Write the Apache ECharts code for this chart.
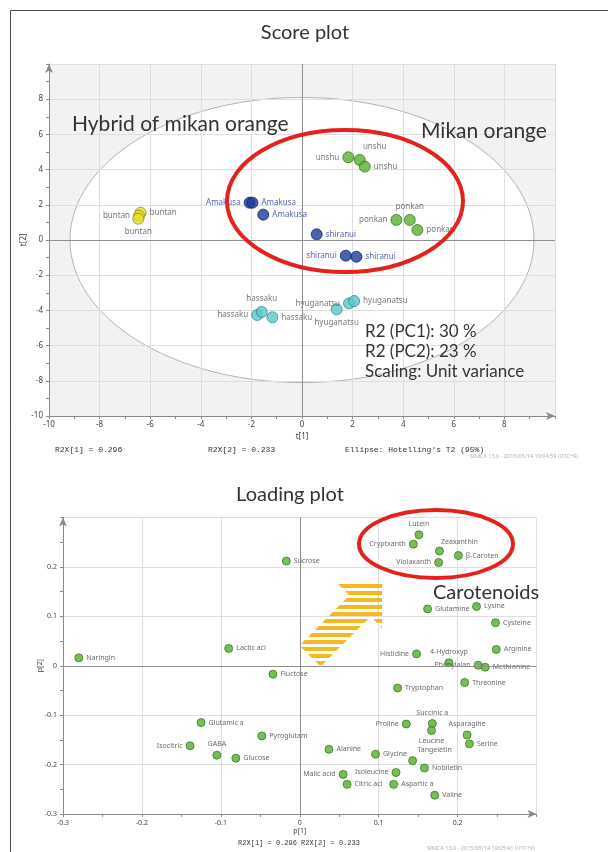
<!DOCTYPE html>
<html>
<head>
<meta charset="utf-8">
<script src="https://cdn.jsdelivr.net/npm/echarts@6/dist/echarts.min.js"></script>
<style>
html,body{margin:0;padding:0;background:#fff;}
#main{width:608px;height:852px;}
</style>
</head>
<body>
<div id="main"></div>
<script>
// score plot: t[1], t[2] for each sample
var scoreNames = ['buntan','buntan','buntan','Amakusa','Amakusa','Amakusa','shiranui','shiranui','shiranui',
  'unshu','unshu','unshu','ponkan','ponkan','ponkan','hassaku','hassaku','hassaku','hyuganatsu','hyuganatsu','hyuganatsu'];
var scoreT1 = [-6.38,-6.44,-6.47,-2.07,-1.96,-1.53,0.58,1.73,2.15,1.83,2.28,2.48,3.73,4.26,4.56,-1.77,-1.59,-1.17,1.37,1.86,2.06];
var scoreT2 = [1.55,1.38,1.21,2.12,2.12,1.44,0.32,-0.89,-0.95,4.70,4.55,4.17,1.14,1.14,0.57,-4.26,-4.09,-4.39,-3.94,-3.60,-3.47];
var scoreLabelPos = ['right','left','bottom','left','right','right','right','left','right',
  'left','top','right','left','top','right','left','top','right','bottom','left','right'];
var scoreLabelShift = {10: [15, 0]};

// Hotelling's T2 ellipse half axes (t[1], t[2])
var t2EllipseA = 9.17;
var t2EllipseB = 8.1;

// loading plot: p[1], p[2] for each variable
var loadingNames = ['Naringin','Lactic aci','Sucrose','Fluctose','Glutamic a','Pyroglutam','Isocitric','GABA','Glucose',
  'Lutein','Cryptxanth','Zeaxanthin','β-Caroten','Violaxanth','Glutamine','Lysine','Cysteine','Arginine','Histidine',
  '4-Hydroxyp','Phenylalan','Methionine','Threonine','Tryptophan','Succinic a','Proline','Leucine','Asparagine','Serine',
  'Alanine','Glycine','Tangeletin','Nobiletin','Isoleucine','Malic acid','Citric aci','Aspartic a','Valine'];
var loadingP1 = [-0.280,-0.090,-0.017,-0.034,-0.125,-0.048,-0.139,-0.105,-0.081,
  0.151,0.144,0.177,0.201,0.176,0.162,0.224,0.248,0.249,0.148,
  0.189,0.226,0.235,0.209,0.124,0.168,0.135,0.167,0.212,0.215,
  0.037,0.096,0.143,0.158,0.122,0.055,0.060,0.119,0.171];
var loadingP2 = [0.016,0.035,0.212,-0.017,-0.115,-0.142,-0.162,-0.181,-0.187,
  0.265,0.246,0.232,0.223,0.209,0.115,0.120,0.087,0.033,0.024,
  0.006,0.001,-0.003,-0.034,-0.045,-0.117,-0.118,-0.131,-0.140,-0.158,
  -0.169,-0.179,-0.192,-0.207,-0.216,-0.220,-0.240,-0.240,-0.262];
var loadingLabelPos = ['right','right','right','right','right','right','left','top','right',
  'top','left','top','right','left','right','right','right','right','left',
  'top','left','right','right','right','top','left','bottom','top','right',
  'right','right','top','right','left','left','right','right','right'];
var loadingLabelShift = {11: [20, 2], 31: [22, 0]};

var cultivarColor = {buntan:'#e6de2c', Amakusa:'#1b3b94', shiranui:'#1b3b94', unshu:'#5bae34', ponkan:'#5bae34', hassaku:'#5ec6c9', hyuganatsu:'#5ec6c9'};
var cultivarBorder = {buntan:'#8d8418', Amakusa:'#0e2464', shiranui:'#0e2464', unshu:'#377a1c', ponkan:'#377a1c', hassaku:'#2c8c92', hyuganatsu:'#2c8c92'};

var sans = 'Noto Sans';

var scoreData = [];
for (var i = 0; i < scoreNames.length; i++) {
  var nm = scoreNames[i];
  var blue = (nm == 'Amakusa' || nm == 'shiranui');
  scoreData.push({
    name: nm,
    value: [scoreT1[i], scoreT2[i]],
    itemStyle: {color: cultivarColor[nm], borderColor: cultivarBorder[nm], borderWidth: 1},
    label: {position: scoreLabelPos[i], color: blue ? '#2a3d92' : '#555', offset: scoreLabelShift[i] || [0, 0]}
  });
}
var loadingData = [];
for (var j = 0; j < loadingNames.length; j++) {
  loadingData.push({
    name: loadingNames[j],
    value: [loadingP1[j], loadingP2[j]],
    label: {position: loadingLabelPos[j], offset: loadingLabelShift[j] || [0, 0]}
  });
}

function valueAxis(grid, min, max, step, name, fs, isY, gap) {
  return {
    type: 'value', gridIndex: grid, min: min, max: max, interval: step,
    name: name, nameLocation: 'middle', nameGap: gap, nameMoveOverlap: false,
    nameTextStyle: {fontSize: fs, color: '#444', fontFamily: sans},
    axisLine: {show: true, onZero: false, symbol: ['none', 'arrow'], symbolSize: [6, 9],
      lineStyle: {color: '#8a8a8a', width: 1}},
    axisTick: {show: true, length: 3, lineStyle: {color: '#8a8a8a'}},
    minorTick: {show: true, splitNumber: 2, length: 3, lineStyle: {color: '#8a8a8a'}},
    axisLabel: {fontSize: fs, color: '#444', fontFamily: sans, margin: isY ? 6 : 5,
      showMaxLabel: false, showMinLabel: true, hideOverlap: false},
    splitLine: {show: true, lineStyle: {color: '#dedede', width: 1}}
  };
}

var zeroLines = {
  silent: true, symbol: 'none', animation: false,
  label: {show: false},
  emphasis: {disabled: true},
  lineStyle: {color: '#8f8f8f', width: 1, type: 'solid'},
  data: [{xAxis: 0}, {yAxis: 0}]
};

// striped fill for the arrow
var stripe = document.createElement('canvas');
stripe.width = 8; stripe.height = 7;
var sctx = stripe.getContext('2d');
sctx.fillStyle = '#f6b81e';
sctx.fillRect(0, 3, 8, 4);

var myChart = echarts.init(document.getElementById('main'));
var option = {
  backgroundColor: '#fff',
  animation: false,
  grid: [
    {left: 49, top: 64, width: 506, height: 352, outerBoundsMode: 'none'},
    {left: 63, top: 517.5, width: 473.5, height: 296.5, outerBoundsMode: 'none'}
  ],
  xAxis: [
    valueAxis(0, -10, 10, 2, 't[1]', 8, false, 17),
    valueAxis(1, -0.3, 0.3, 0.1, 'p[1]', 7, false, 13)
  ],
  yAxis: [
    valueAxis(0, -10, 10, 2, 't[2]', 8, true, 21),
    valueAxis(1, -0.3, 0.3, 0.1, 'p[2]', 7, true, 20)
  ],
  series: [
    {
      type: 'custom', xAxisIndex: 0, yAxisIndex: 0, z: -1, silent: true, clip: false,
      data: [[0, 0]],
      renderItem: function (params, api) {
        var cs = params.coordSys;
        var c = api.coord([0, 0]);
        var r = api.size([t2EllipseA, t2EllipseB]);
        return {type: 'group', children: [
          {type: 'rect', shape: {x: cs.x, y: cs.y, width: cs.width, height: cs.height}, style: {fill: '#f2f2f2'}},
          {type: 'ellipse', shape: {cx: c[0], cy: c[1], rx: r[0], ry: r[1]}, style: {fill: '#fff', stroke: '#b4b4b4', lineWidth: 1}}
        ]};
      }
    },
    {
      type: 'scatter', xAxisIndex: 0, yAxisIndex: 0, symbolSize: 11,
      data: scoreData,
      label: {show: true, formatter: '{b}', fontSize: 8, fontFamily: sans, distance: 3},
      emphasis: {disabled: true},
      markLine: zeroLines
    },
    {
      type: 'scatter', xAxisIndex: 1, yAxisIndex: 1, symbolSize: 8,
      itemStyle: {color: '#57ad30', borderColor: '#3a7b1d', borderWidth: 1},
      data: loadingData,
      label: {show: true, formatter: '{b}', fontSize: 7, fontFamily: sans, color: '#444', distance: 3},
      emphasis: {disabled: true},
      markLine: zeroLines
    }
  ],
  graphic: [
    {type: 'line', shape: {x1: 10.5, y1: 10.5, x2: 608, y2: 10.5}, style: {stroke: '#4a4a4a', lineWidth: 1}},
    {type: 'line', shape: {x1: 10.5, y1: 10.5, x2: 10.5, y2: 852}, style: {stroke: '#4a4a4a', lineWidth: 1}},
    {type: 'text', x: 305, y: 33, style: {text: 'Score plot', font: '20px Lato', fill: '#333', textAlign: 'center', textVerticalAlign: 'middle'}},
    {type: 'text', x: 290, y: 495, style: {text: 'Loading plot', font: '20px Lato', fill: '#333', textAlign: 'center', textVerticalAlign: 'middle'}},
    {type: 'text', x: 72, y: 124, z: 10, style: {text: 'Hybrid of mikan orange', font: '21px Lato', fill: '#333', textVerticalAlign: 'middle'}},
    {type: 'text', x: 421, y: 131, z: 10, style: {text: 'Mikan orange', font: '21px Lato', fill: '#333', textVerticalAlign: 'middle'}},
    {type: 'text', x: 365, y: 332, z: 10, style: {text: 'R2 (PC1): 30 %', font: '17px Lato', fill: '#333', textVerticalAlign: 'middle'}},
    {type: 'text', x: 365, y: 352, z: 10, style: {text: 'R2 (PC2): 23 %', font: '17px Lato', fill: '#333', textVerticalAlign: 'middle'}},
    {type: 'text', x: 365, y: 372, z: 10, style: {text: 'Scaling: Unit variance', font: '17px Lato', fill: '#333', textVerticalAlign: 'middle'}},
    {type: 'text', x: 433, y: 593, z: 10, style: {text: 'Carotenoids', font: '20px Lato', fill: '#333', textVerticalAlign: 'middle'}},
    {type: 'ellipse', z: 10, shape: {cx: 345, cy: 201, rx: 118, ry: 71}, style: {fill: 'none', stroke: '#e5211c', lineWidth: 4}},
    {type: 'ellipse', z: 10, shape: {cx: 436, cy: 544, rx: 77, ry: 34}, style: {fill: 'none', stroke: '#e5211c', lineWidth: 4}},
    {type: 'polygon', z: 10, shape: {points: [[338, 584], [382, 584], [382, 628], [370.6, 616.6], [320.6, 666.6], [299.4, 645.4], [349.4, 595.4]]},
      style: {fill: {image: stripe, repeat: 'repeat'}}},
    {type: 'text', x: 55, y: 450, style: {text: 'R2X[1] = 0.296', font: '8px "Liberation Mono"', fill: '#333', textVerticalAlign: 'middle'}},
    {type: 'text', x: 208, y: 450, style: {text: 'R2X[2] = 0.233', font: '8px "Liberation Mono"', fill: '#333', textVerticalAlign: 'middle'}},
    {type: 'text', x: 345, y: 450, style: {text: "Ellipse: Hotelling's T2 (95%)", font: '8px "Liberation Mono"', fill: '#333', textVerticalAlign: 'middle'}},
    {type: 'text', x: 470, y: 456, style: {text: 'SIMCA 13.0 - 2015/05/14 19:04:59 (UTC+9)', font: '5.5px "Noto Sans"', fill: '#b0b0b0', textVerticalAlign: 'middle'}},
    {type: 'text', x: 299, y: 843, style: {text: 'R2X[1] = 0.296 R2X[2] = 0.233', font: '7px "Liberation Mono"', fill: '#333', textAlign: 'center', textVerticalAlign: 'middle'}},
    {type: 'text', x: 427, y: 848, style: {text: 'SIMCA 13.0 - 2015/05/14 19:05:41 (UTC+9)', font: '5.5px "Noto Sans"', fill: '#b0b0b0', textVerticalAlign: 'middle'}}
  ]
};
myChart.setOption(option);
</script>
</body>
</html>
